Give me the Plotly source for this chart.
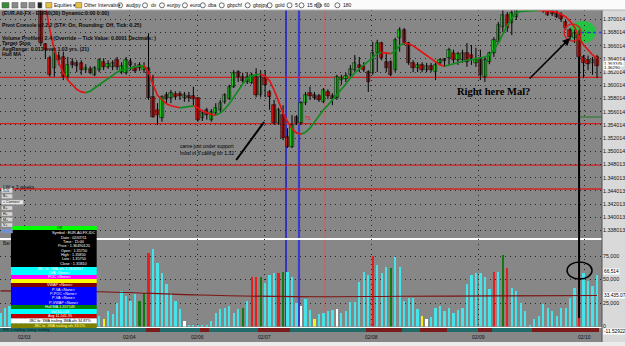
import plotly.graph_objects as go

# ----------------------------- data -----------------------------
date_labels = ["02/03", "02/04", "02/06", "02/07", "02/08", "02/09", "02/10"]
date_index = [5.4, 28.8, 43.9, 58.8, 82.8, 106.6, 130.3]

open_ = [
    1.3768, 1.3765, 1.3770, 1.3766, 1.3760, 1.3764, 1.3758, 1.3756, 1.3760,
    1.3737, 1.3663, 1.3641, 1.3626, 1.3645, 1.3643, 1.3613, 1.3635, 1.3634, 1.3634,
    1.3623, 1.3625, 1.3616, 1.3623, 1.3635, 1.3628, 1.3628, 1.3638, 1.3620, 1.3619,
    1.3635, 1.3628, 1.3631, 1.3623, 1.3626, 1.3582, 1.3563, 1.3551, 1.3585, 1.3581,
    1.3587, 1.3587, 1.3581, 1.3584, 1.3584, 1.3581, 1.3551, 1.3563, 1.3548, 1.3558,
    1.3563, 1.3575, 1.3579, 1.3598, 1.3620, 1.3613, 1.3605, 1.3604, 1.3613, 1.3585,
    1.3611, 1.3590, 1.3570, 1.3543, 1.3555, 1.3522, 1.3507, 1.3552, 1.3543, 1.3573,
    1.3588, 1.3585, 1.3584, 1.3575, 1.3590, 1.3584, 1.3581, 1.3608, 1.3610, 1.3616,
    1.3623, 1.3631, 1.3629, 1.3620, 1.3619, 1.3649, 1.3664, 1.3635, 1.3635, 1.3623,
    1.3672, 1.3684, 1.3664, 1.3634, 1.3626, 1.3631, 1.3623, 1.3629, 1.3620, 1.3634,
    1.3640, 1.3641, 1.3649, 1.3638, 1.3638, 1.3649, 1.3646, 1.3634, 1.3641, 1.3613,
    1.3635, 1.3649, 1.3666, 1.3688, 1.3707, 1.3694, 1.3704, 1.3729, 1.3723, 1.3734,
    1.3725, 1.3735, 1.3725, 1.3714, 1.3713, 1.3711, 1.3707, 1.3696, 1.3684, 1.3672,
    1.3676, 1.3643, 1.3638, 1.3634, 1.3643,
]
high_ = [
    1.3775, 1.3772, 1.3778, 1.3770, 1.3768, 1.3770, 1.3763, 1.3764, 1.3765,
    1.3745, 1.3664, 1.3645, 1.3658, 1.3651, 1.3651, 1.3643, 1.3641, 1.3638, 1.3638,
    1.3632, 1.3629, 1.3629, 1.3641, 1.3641, 1.3638, 1.3638, 1.3643, 1.3635, 1.3643,
    1.3641, 1.3634, 1.3635, 1.3635, 1.3679, 1.3616, 1.3573, 1.3585, 1.3590, 1.3593,
    1.3591, 1.3591, 1.3590, 1.3590, 1.3598, 1.3582, 1.3563, 1.3566, 1.3564, 1.3573,
    1.3578, 1.3588, 1.3601, 1.3623, 1.3623, 1.3619, 1.3620, 1.3619, 1.3626, 1.3623,
    1.3623, 1.3593, 1.3578, 1.3566, 1.3570, 1.3535, 1.3555, 1.3555, 1.3576, 1.3590,
    1.3598, 1.3590, 1.3587, 1.3596, 1.3594, 1.3588, 1.3616, 1.3616, 1.3619, 1.3631,
    1.3646, 1.3643, 1.3635, 1.3623, 1.3666, 1.3669, 1.3666, 1.3649, 1.3638, 1.3672,
    1.3688, 1.3687, 1.3666, 1.3638, 1.3635, 1.3635, 1.3634, 1.3634, 1.3635, 1.3641,
    1.3641, 1.3657, 1.3654, 1.3651, 1.3654, 1.3664, 1.3661, 1.3657, 1.3654, 1.3643,
    1.3651, 1.3673, 1.3696, 1.3714, 1.3711, 1.3717, 1.3722, 1.3741, 1.3737, 1.3741,
    1.3738, 1.3741, 1.3732, 1.3717, 1.3717, 1.3714, 1.3711, 1.3699, 1.3687, 1.3684,
    1.3684, 1.3646, 1.3645, 1.3643, 1.3646,
]
low_ = [
    1.3760, 1.3758, 1.3764, 1.3755, 1.3754, 1.3756, 1.3750, 1.3752, 1.3748,
    1.3660, 1.3640, 1.3613, 1.3613, 1.3631, 1.3608, 1.3608, 1.3626, 1.3620, 1.3616,
    1.3619, 1.3617, 1.3614, 1.3620, 1.3623, 1.3625, 1.3623, 1.3623, 1.3617, 1.3616,
    1.3623, 1.3619, 1.3622, 1.3619, 1.3578, 1.3551, 1.3540, 1.3545, 1.3573, 1.3573,
    1.3578, 1.3578, 1.3575, 1.3575, 1.3570, 1.3545, 1.3546, 1.3548, 1.3545, 1.3555,
    1.3560, 1.3572, 1.3578, 1.3596, 1.3605, 1.3604, 1.3602, 1.3602, 1.3582, 1.3582,
    1.3582, 1.3563, 1.3540, 1.3540, 1.3517, 1.3505, 1.3505, 1.3540, 1.3540, 1.3570,
    1.3578, 1.3578, 1.3575, 1.3573, 1.3579, 1.3570, 1.3578, 1.3601, 1.3605, 1.3613,
    1.3620, 1.3620, 1.3620, 1.3590, 1.3616, 1.3620, 1.3638, 1.3620, 1.3614, 1.3620,
    1.3651, 1.3661, 1.3631, 1.3620, 1.3620, 1.3620, 1.3620, 1.3620, 1.3608, 1.3631,
    1.3628, 1.3631, 1.3634, 1.3631, 1.3634, 1.3628, 1.3631, 1.3628, 1.3608, 1.3605,
    1.3632, 1.3643, 1.3663, 1.3681, 1.3681, 1.3676, 1.3699, 1.3720, 1.3719, 1.3722,
    1.3720, 1.3720, 1.3710, 1.3705, 1.3705, 1.3702, 1.3696, 1.3684, 1.3669, 1.3664,
    1.3638, 1.3611, 1.3623, 1.3616, 1.3611,
]
close_ = [
    1.3765, 1.3770, 1.3766, 1.3760, 1.3764, 1.3758, 1.3756, 1.3760, 1.3750,
    1.3664, 1.3654, 1.3616, 1.3654, 1.3638, 1.3613, 1.3631, 1.3631, 1.3629, 1.3623,
    1.3626, 1.3619, 1.3626, 1.3638, 1.3628, 1.3632, 1.3634, 1.3628, 1.3629, 1.3638,
    1.3631, 1.3622, 1.3626, 1.3628, 1.3581, 1.3552, 1.3555, 1.3582, 1.3579, 1.3588,
    1.3582, 1.3584, 1.3585, 1.3581, 1.3579, 1.3548, 1.3558, 1.3555, 1.3560, 1.3566,
    1.3573, 1.3585, 1.3598, 1.3619, 1.3613, 1.3607, 1.3613, 1.3616, 1.3585, 1.3613,
    1.3601, 1.3582, 1.3543, 1.3563, 1.3520, 1.3507, 1.3540, 1.3543, 1.3573, 1.3585,
    1.3584, 1.3581, 1.3578, 1.3593, 1.3584, 1.3579, 1.3613, 1.3611, 1.3614, 1.3625,
    1.3634, 1.3626, 1.3623, 1.3605, 1.3649, 1.3664, 1.3641, 1.3626, 1.3616, 1.3669,
    1.3684, 1.3664, 1.3634, 1.3626, 1.3631, 1.3623, 1.3629, 1.3623, 1.3631, 1.3638,
    1.3637, 1.3654, 1.3638, 1.3648, 1.3649, 1.3635, 1.3641, 1.3638, 1.3616, 1.3638,
    1.3649, 1.3669, 1.3691, 1.3707, 1.3687, 1.3710, 1.3717, 1.3725, 1.3732, 1.3726,
    1.3735, 1.3725, 1.3713, 1.3707, 1.3708, 1.3704, 1.3700, 1.3687, 1.3673, 1.3679,
    1.3643, 1.3634, 1.3632, 1.3638, 1.3629,
]
hull_ma = [
    None, None, None, None, None, None, None, None, None,
    1.3737, 1.3722, 1.3684, 1.3654, 1.3634, 1.3619, 1.3608, 1.3601, 1.3594, 1.3590,
    1.3589, 1.3591, 1.3596, 1.3601, 1.3605, 1.3611, 1.3616, 1.3620, 1.3623, 1.3625,
    1.3626, 1.3628, 1.3629, 1.3630, 1.3620, 1.3601, 1.3585, 1.3578, 1.3572, 1.3569,
    1.3567, 1.3566, 1.3567, 1.3568, 1.3569, 1.3566, 1.3561, 1.3558, 1.3556, 1.3555,
    1.3558, 1.3564, 1.3572, 1.3582, 1.3593, 1.3602, 1.3610, 1.3614, 1.3616, 1.3617,
    1.3614, 1.3607, 1.3593, 1.3576, 1.3558, 1.3545, 1.3534, 1.3528, 1.3526, 1.3529,
    1.3535, 1.3545, 1.3554, 1.3563, 1.3570, 1.3578, 1.3585, 1.3594, 1.3602, 1.3611,
    1.3619, 1.3625, 1.3631, 1.3637, 1.3643, 1.3648, 1.3650, 1.3649, 1.3648, 1.3652,
    1.3660, 1.3664, 1.3663, 1.3660, 1.3655, 1.3651, 1.3646, 1.3640, 1.3635, 1.3631,
    1.3629, 1.3631, 1.3633, 1.3635, 1.3637, 1.3638, 1.3639, 1.3640, 1.3641, 1.3643,
    1.3646, 1.3654, 1.3664, 1.3678, 1.3691, 1.3702, 1.3710, 1.37120, 1.37126, 1.37130,
    1.37133, 1.37135, 1.37133, 1.37128, 1.37122, 1.3711, 1.3708, 1.3704, 1.3697, 1.3688,
    1.3672, 1.3661, 1.3654, 1.3646, 1.3641,
]
volume = [
    14000, 19600, 22000, 18000, 25000, 30000, 28000, 35000, 40000,
    33000, 27000, 24000, 20000, 18000, 22000, 26000, 21000, 17000, 15000,
    19000, 14000, 12000, 11000, 7600, 16300, 13000, 25000, 38000, 32600,
    27200, 34800, 27200, 35900, 78300, 82600, 67400, 56500, 45700, 35900,
    27200, 18500, 5400, 1500, 1000, 800, 1200, 2000, 5400, 14100,
    18500, 19600, 21700, 14100, 18500, 19600, 27200, 52200, 52200, 52200,
    46700, 54300, 56500, 56500, 57600, 57600, 52200, 25000, 21700, 29300,
    17400, 7600, 13000, 14100, 16300, 17400, 18500, 14100, 16300, 26100,
    26100, 47800, 57600, 54300, 75000, 65200, 56500, 63000, 62000, 73900,
    63000, 27200, 30400, 30400, 18500, 10900, 7600, 9800, 19600, 21700,
    16300, 19600, 14100, 17400, 19600, 45700, 54300, 56500, 56500, 52200,
    40200, 57600, 57600, 76100, 62000, 41300, 38000, 25000, 16300, 1000,
    7600, 10900, 23900, 19600, 16300, 10900, 19600, 19600, 30400, 41300,
    56500, 56500, 48900, 43500, 54300,
]
volume_kind = list(
    "ccccccccc"
    "cccccccccc"
    "ccccyccccc"
    "ccggrccccc"
    "ccwccccccc"
    "cccccgcrrg"
    "cccrgcccwc"
    "cyccccwccc"
    "ccccrcccgc"
    "cccccywccc"
    "cccccccccc"
    "crcgrccccc"
    "cccccccccc"
    "rcccc"
)
vol_avg_index = [0, 22, 44, 66, 90, 110, 133]
vol_avg = [38000, 37000, 33500, 31700, 32200, 32500, 33000]
strip_runs = [("t", 33), ("r", 3), ("t", 9), ("r", 2), ("t", 11), ("r", 7), ("t", 17),
              ("r", 8), ("t", 4), ("r", 6), ("t", 7), ("r", 3), ("t", 9), ("r", 15)]
price_tick_values = [1.370014, 1.368014, 1.366014, 1.364014, 1.362014, 1.360014, 1.358014,
                     1.356014, 1.354014, 1.352014, 1.350014, 1.348013, 1.346013, 1.344013,
                     1.342013, 1.340013, 1.338013]
price_tick_text = ["%.6f" % v for v in price_tick_values]
volume_tick_values = [0, 25000, 50000, 75000]
volume_tick_text = ["0", "25,000", "50,000", "75,000"]
support_levels = [1.3612, 1.3542, 1.3479, 1.3443]

# ----------------------------- helpers (layout only) -----------------------------
def xp(px):  # pixel x -> paper
    return px / 604.0

def yp(py):  # pixel y -> paper
    return (342.0 - py) / 332.0

def xi(px):  # pixel x -> bar index (for decorations)
    return (px - 0.5) / 4.5

def pr(py):  # pixel y -> price (for decorations)
    return 1.37293 - 0.0001515 * py

GRAY = "#878787"
FONT = "Liberation Sans"
n = len(open_)
idx = list(range(n))
XR = [-0.111, 134.111]

fig = go.Figure()

# wicks
wx, wy = [], []
for i in idx:
    wx += [i, i, None]
    wy += [low_[i], high_[i], None]
fig.add_trace(go.Scatter(x=wx, y=wy, mode="lines", line=dict(color="#000000", width=1),
                         xaxis="x", yaxis="y", hoverinfo="skip"))

# bodies
base = [min(o, c) for o, c in zip(open_, close_)]
height = [max(abs(c - o), 0.00007) for o, c in zip(open_, close_)]
body_col = ["#1fe01f" if c >= o else "#e01212" for o, c in zip(open_, close_)]
fig.add_trace(go.Bar(x=idx, y=height, base=base, width=0.74,
                     marker=dict(color=body_col, line=dict(color="#101010", width=0.6)),
                     xaxis="x", yaxis="y", hoverinfo="skip"))

# Hull MA coloured by slope
segs = []
cur = None
prev_col = "#e01515"
for i in range(1, n):
    a, b = hull_ma[i - 1], hull_ma[i]
    if a is None or b is None:
        continue
    col = "#118a1e" if b > a else ("#e01515" if b < a else prev_col)
    prev_col = col
    if cur is not None and cur["col"] == col and cur["x"][-1] == i - 1:
        cur["x"].append(i)
        cur["y"].append(b)
    else:
        cur = {"col": col, "x": [i - 1, i], "y": [a, b]}
        segs.append(cur)
for s in segs:
    fig.add_trace(go.Scatter(x=s["x"], y=s["y"], mode="lines", line=dict(color=s["col"], width=1.7),
                             xaxis="x", yaxis="y", hoverinfo="skip"))

# volume
vcol_map = {"c": "#45e3ea", "r": "#e42020", "g": "#137a13", "w": "#ffffff", "y": "#f2f21a"}
fig.add_trace(go.Bar(x=idx, y=volume, width=0.5, marker=dict(color=[vcol_map[k] for k in volume_kind], line_width=0),
                     xaxis="x2", yaxis="y2", hoverinfo="skip"))
fig.add_trace(go.Scatter(x=vol_avg_index, y=vol_avg, mode="lines", line=dict(color="#7d1212", width=1.2, shape="spline"),
                         xaxis="x2", yaxis="y2", hoverinfo="skip"))

# bottom strip
strip_col = []
for kind, cnt in strip_runs:
    strip_col += ["#236b6b" if kind == "t" else "#7a1c1c"] * cnt
fig.add_trace(go.Bar(x=idx, y=[1] * n, width=1.0, marker=dict(color=strip_col, line_width=0),
                     xaxis="x3", yaxis="y3", hoverinfo="skip"))

grid = dict(showgrid=True, gridcolor="#262626", griddash="1px,4px", gridwidth=1, zeroline=False, ticks="")
fig.update_layout(
    width=625, height=346, margin=dict(l=0, r=21, t=10, b=4),
    paper_bgcolor=GRAY, plot_bgcolor=GRAY, showlegend=False, barmode="overlay", bargap=0,
    xaxis=dict(domain=[0, 1], range=XR, anchor="y", showticklabels=False, tickvals=date_index,
               showline=True, linecolor="#ffffff", linewidth=1.5, **grid),
    xaxis2=dict(domain=[0, 1], range=XR, anchor="y2", showticklabels=False, tickvals=date_index,
                showline=True, linecolor="#ffffff", linewidth=1.2, **grid),
    xaxis3=dict(domain=[0, 1], range=XR, anchor="y3", showticklabels=False, showgrid=False, zeroline=False,
                showline=False),
    yaxis=dict(domain=[yp(238), 1], range=[pr(238), pr(10)], side="right", anchor="x",
               tickvals=price_tick_values, ticktext=price_tick_text, showline=False,
               tickfont=dict(size=5.3, color="#111111", family=FONT), **grid),
    yaxis2=dict(domain=[yp(326.5), yp(239)], range=[0, 93100], side="right", anchor="x2",
                tickvals=volume_tick_values, ticktext=volume_tick_text, showline=False,
                tickfont=dict(size=5.3, color="#111111", family=FONT), **grid),
    yaxis3=dict(domain=[yp(332), yp(327.5)], range=[0, 1], anchor="x3", showticklabels=False,
                showgrid=False, zeroline=False, showline=False),
)

shapes = []
# frame areas
shapes.append(dict(type="rect", xref="paper", yref="paper", x0=1.0, x1=1.05, y0=-0.03, y1=1.0,
                   fillcolor="#d9d9d9", line_width=0, layer="below"))
shapes.append(dict(type="rect", xref="paper", yref="paper", x0=0, x1=1.05, y0=1.0, y1=1.04,
                   fillcolor="#fbfbfb", line_width=0, layer="below"))
shapes.append(dict(type="rect", xref="paper", yref="paper", x0=0, x1=1.05, y0=-0.03, y1=0.0,
                   fillcolor="#ececec", line_width=0, layer="below"))
# support / resistance levels
for lv in support_levels:
    shapes.append(dict(type="line", xref="x", yref="y", x0=XR[0], x1=XR[1], y0=lv, y1=lv,
                       line=dict(color="#d42020", width=1.3), layer="below"))
# vertical markers
for px_, col, w in [(287, "#1c1cc8", 1.5), (300, "#3a3ad0", 2.2), (326, "#c86060", 1.0)]:
    shapes.append(dict(type="line", xref="x", yref="y domain", x0=xi(px_), x1=xi(px_), y0=0, y1=1,
                       line=dict(color=col, width=w), layer="below"))
    shapes.append(dict(type="line", xref="x2", yref="y2 domain", x0=xi(px_), x1=xi(px_), y0=0, y1=1.0,
                       line=dict(color=col, width=w), layer="below"))
# green blob
shapes.append(dict(type="circle", xref="x", yref="y", x0=xi(571), x1=xi(598), y0=pr(43), y1=pr(21),
                   fillcolor="#26c244", line_width=0, layer="below"))
shapes.append(dict(type="line", xref="paper", yref="paper", x0=1, x1=1, y0=0, y1=1,
                   line=dict(color="#505050", width=1)))
shapes.append(dict(type="line", xref="paper", yref="paper", x0=0, x1=1.05, y0=1.0, y1=1.0,
                   line=dict(color="#b0b0b0", width=1)))
# right side markers
shapes.append(dict(type="line", xref="paper", yref="y", x0=xp(583), x1=1.0, y0=1.368014, y1=1.368014,
                   line=dict(color="#2a3cff", width=1.5, dash="dot")))
shapes.append(dict(type="line", xref="paper", yref="paper", x0=xp(582), x1=1.0, y0=yp(117), y1=yp(117),
                   line=dict(color="#1f7a1f", width=1)))
# annotations drawing
shapes.append(dict(type="circle", xref="paper", yref="paper", x0=xp(566), x1=xp(583), y0=yp(41), y1=yp(24),
                   line=dict(color="#d42020", width=1.5)))
shapes.append(dict(type="line", xref="paper", yref="paper", x0=xp(581), x1=xp(581), y0=yp(57), y1=yp(318),
                   line=dict(color="#000000", width=2)))
shapes.append(dict(type="circle", xref="paper", yref="paper", x0=xp(569), x1=xp(594), y0=yp(279), y1=yp(262),
                   line=dict(color="#000000", width=1.5)))
shapes.append(dict(type="line", xref="paper", yref="paper", x0=xp(237), x1=xp(265), y0=yp(160), y1=yp(122),
                   line=dict(color="#000000", width=2)))

annotations = []

def txt(x, y, s, size=5, color="#000000", anchor="left", family=FONT, bg=None, bold=False, yref="paper", xref="paper"):
    d = dict(x=x, y=y, xref=xref, yref=yref, text=("<b>%s</b>" % s) if bold else s, showarrow=False,
             xanchor=anchor, yanchor="middle", font=dict(size=size, color=color, family=family),
             borderpad=0)
    if bg:
        d["bgcolor"] = bg
    annotations.append(d)

# data window (left bottom)
rows = [
    (226, 230, "#00ff00", [("OK", "#000000")]),
    (230, 267, "#000000", []),
    (267, 271, "#00ffff", [("JBC hi: 3MA afs 1.3602617", "#ffffff")]),
    (271, 275, "#00ffff", [("LVA <None>", "#ffffff")]),
    (275, 279, "#ff00ff", [("POC <None>", "#ffffff")]),
    (279, 283, "#ffff00", []),
    (283, 287, "#800000", [("VWAP <None>", "#ffffff")]),
    (287, 305, "#0000ff", []),
    (305, 309, "#008000", [("Hull MA 1.357149", "#ffffff")]),
    (309, 314, "#00ffff", [("Vol 10,153", "#ffffff")]),
    (314, 318.5, "#c00000", [("Avg 11,541.95", "#ffffff")]),
    (318.5, 323.5, "#ffffff", [("JBC lo: 3MA trailing 3MA afs 34.87%", "#000000")]),
    (323.5, 328, "#808000", [("JBC lo: 3MA trailing afs 33.5%", "#ffff80")]),
]
for y0, y1, col, lines in rows:
    shapes.append(dict(type="rect", xref="paper", yref="paper", x0=xp(11), x1=xp(97), y0=yp(y1), y1=yp(y0),
                       fillcolor=col, line_width=0))
    for s, tc in lines:
        txt(xp(60), yp((y0 + y1) / 2), s, size=3.8, color=tc, anchor="center")
info = ["Symbol : EUR.A0-FX,IDC", "Date : 02/07/11", "Time : 15:00", "Price : 1.36490120",
        "Open : 1.35750", "High : 1.35850", "Low : 1.35750", "Close : 1.35810"]
for j, s in enumerate(info):
    txt(xp(74), yp(233.5 + j * 4.3), s, size=3.8, color="#ffffff", anchor="center")
for j, s in enumerate(["P-VA <None>", "P-POC <None>", "P-VA <None>", "P-VWAP <None>"]):
    txt(xp(64), yp(289.5 + j * 4.4), s, size=3.8, color="#ffffff", anchor="center")

# left buttons
for y0, y1, w, s, col in [(188, 193, 11, "1+5", "#d6d6d6"), (194, 198.5, 11, "B+", "#d6d6d6"),
                          (200, 204.5, 22, "+ Connect", "#e6e6e6"), (206, 210, 11, "B+", "#d6d6d6"),
                          (212, 216, 11, "H+", "#d6d6d6"), (217.5, 221.5, 11, "M+", "#d6d6d6"),
                          (223, 227, 11, "V+", "#d6d6d6"), (229, 233, 11, "", "#6f8fd6")]:
    shapes.append(dict(type="rect", xref="paper", yref="paper", x0=xp(1.5), x1=xp(1.5 + w), y0=yp(y1), y1=yp(y0),
                       fillcolor=col, line=dict(color="#9a9a9a", width=0.5)))
    if s:
        txt(xp(2.5), yp((y0 + y1) / 2), s, size=3.6, color="#000000")

# top-left study legend
for y, s in [(13, "(EUR.A0-FX - EUR/0(30) Dynamic:0:00 0:00)"),
             (25, "Pivot Console v2.2.2 (ST#: On, Rounding: Off, Tick: 0.25)"),
             (37.5, "Volume Profiler - 2.4 (Override -- Tick Value: 0.0001 Decimals: )"),
             (43, "Target Stop"), (48.5, "AvgRange: 0.013 over 1.03 yrs. (21)"), (54, "Hull MA")]:
    txt(xp(1.5), yp(y), s, size=5.2, color="#0a0a0a", bold=True)

txt(xp(2), yp(187), "LW = 3 weeks", size=5, color="#111111")
txt(xp(2), yp(243.5), "Bar", size=4.5, color="#111111")
txt(xp(2), yp(330), "RSI = trailing: rising: trailing", size=3.8, color="#111111")
txt(xp(208), yp(146), "came just under support", size=5, color="#000000", anchor="center")
txt(xp(208), yp(152.5), "most in fl calling for 1.32", size=5, color="#000000", anchor="center")
txt(xp(309), yp(118.5), "TS", size=4.5, color="#d42020", anchor="center")
txt(xp(495), yp(91), "Right here Mal?", size=10.5, color="#000000", anchor="center",
    family="Liberation Serif", bold=True)
annotations.append(dict(x=xp(572), y=yp(38), xref="paper", yref="paper", text="", showarrow=True,
                        ax=-42, ay=42, arrowhead=2, arrowsize=1, arrowwidth=1.5, arrowcolor="#000000"))

# date labels
for lab, pos in zip(date_labels, date_index):
    txt(pos, yp(336.5), lab, size=5, color="#111111", anchor="center", xref="x3")

# right axis boxes
for y, s, sz in [(63.4, "1.363345", 4.4), (68.0, "1.36290", 4.4), (271, "66,514", 4.8),
                 (295, "33,435.07", 4.8), (331, "-11.52922", 4.8)]:
    txt(xp(605), yp(y), s, size=sz, color="#000000", bg="#ffffff")

# toolbar
for x0, w, col in [(2, 7, "#3a8a3a"), (12, 6, "#8a8a8a"), (21, 6, "#8a8a8a"), (29, 6, "#8a8a8a"),
                   (38, 4, "#202020"), (46, 6, "#e8c040"), (76, 6, "#e8c040")]:
    shapes.append(dict(type="rect", xref="paper", yref="paper", x0=xp(x0), x1=xp(x0 + w), y0=yp(8), y1=yp(2.5),
                       fillcolor=col, line=dict(color="#555555", width=0.5)))
for x0, s in [(53, "Equities \u25be"), (83, "Other Intervals \u25be"), (125, "audjpy"), (150, "dx"),
              (167, "eurjpy"), (190, "euro"), (208, "dba"), (227, "gbpchf"), (253, "gbpjpy"),
              (275, "gold"), (295, "5"), (307, "15 min"), (324, "60"), (343, "180")]:
    if x0 > 100:
        shapes.append(dict(type="circle", xref="paper", yref="paper", x0=xp(x0 - 7), x1=xp(x0 - 2),
                           y0=yp(7.8), y1=yp(2.8), line=dict(color="#333333", width=0.7)))
    txt(xp(x0), yp(5.3), s, size=5, color="#111111")

fig.update_layout(shapes=shapes, annotations=annotations)
fig.write_html("out.html")
